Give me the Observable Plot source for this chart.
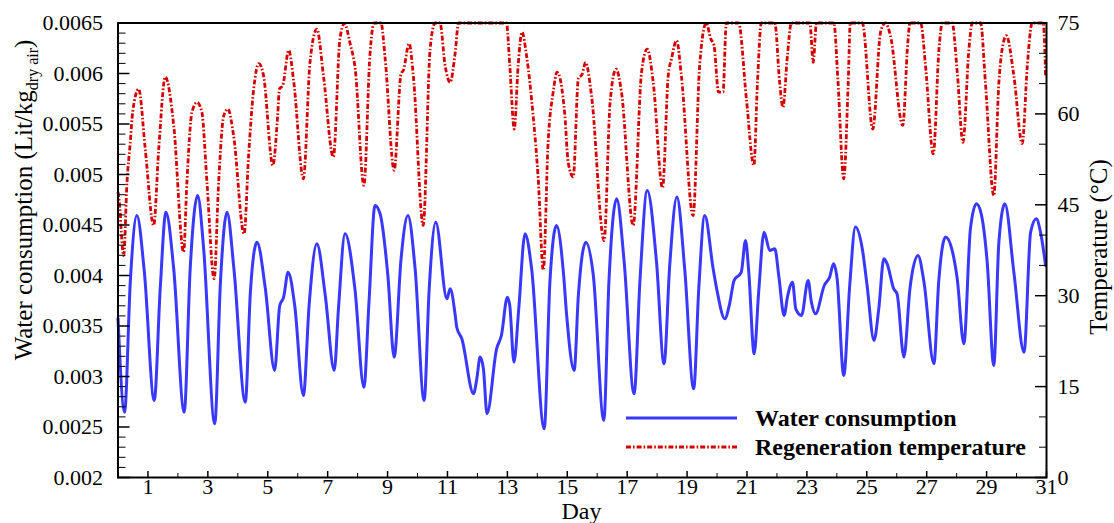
<!DOCTYPE html>
<html><head><meta charset="utf-8">
<script src="https://cdn.jsdelivr.net/npm/d3@7"></script>
<script src="https://cdn.jsdelivr.net/npm/@observablehq/plot@0.6"></script>
<style>body{margin:0;background:#fff}#chart{width:1114px;height:523px}</style>
</head><body><div id="chart"></div>
<script>
// ---- data ----
const waterDay = [0,0.22,0.41,0.63,0.88, 1.21,1.41,1.60,1.86, 2.21,2.41,2.66,2.86, 3.23,3.42,3.64,3.87, 4.25,4.42,4.64,4.92,
  5.23,5.40,5.53,5.68,5.90, 6.19,6.38,6.64,6.92, 7.22,7.36,7.58,7.91, 8.21,8.38,8.58,8.75,9.01, 9.22,9.45,9.68,9.92,
  10.22,10.39,10.61,10.98,11.09,11.26,11.31,11.48, 11.87,11.98,12.09,12.20, 12.32,12.64,12.80,13.00,13.08, 13.22,13.38,13.59,13.81,
  14.23,14.42,14.64,14.87,14.98, 15.23,15.37,15.62,15.87, 16.22,16.39,16.65,16.90, 17.23,17.43,17.67,17.98, 18.23,18.42,18.66,18.92,
  19.22,19.39,19.59,19.87,20.01, 20.26,20.42,20.57,20.81,20.95,21.06, 21.24,21.39,21.57,21.76,21.93,22.06,
  22.24,22.35,22.52,22.63,22.82,23.04,23.15,23.29,23.58,23.76,23.89,24.01, 24.23,24.43,24.62,24.85,25.01,
  25.24,25.40,25.57,25.68,25.90,26.01, 26.24,26.44,26.71,26.91, 27.24,27.40,27.63,27.85,28.02, 28.24,28.46,28.66,28.82,29.02,
  29.24,29.41,29.61,29.91, 30.25,30.47,30.66,30.80,30.97];
const waterVal = [0.003575,0.002647,0.003934,0.004594,0.004033, 0.002763,0.003872,0.004627,0.004067, 0.002647,0.004067,0.004792,0.004264,
  0.002532,0.003934,0.004627,0.004067, 0.002746,0.003835,0.004330,0.003868, 0.003060,0.003703,0.003785,0.004033,0.003703,
  0.002812,0.003703,0.004314,0.003802, 0.003060,0.003670,0.004413,0.003868, 0.002894,0.003736,0.004693,0.004611,0.004000,
  0.003192,0.004165,0.004594,0.004067, 0.002763,0.003868,0.004528,0.003769,0.003868,0.003604,0.003488,0.003373,
  0.002829,0.002978,0.003192,0.003077, 0.002631,0.003274,0.003406,0.003785,0.003703, 0.003142,0.003670,0.004413,0.004067,
  0.002482,0.003934,0.004495,0.004033,0.003604, 0.003060,0.003802,0.004330,0.004000, 0.002565,0.003934,0.004759,0.004132,
  0.002829,0.003967,0.004842,0.004132, 0.003126,0.004099,0.004776,0.004067, 0.002878,0.003868,0.004594,0.004067,0.003835,
  0.003571,0.003720,0.003951,0.004033,0.004347,0.004033, 0.003225,0.003835,0.004429,0.004248,0.004264,0.004000,
  0.003604,0.003785,0.003934,0.003670,0.003604,0.003951,0.003736,0.003621,0.003901,0.003984,0.004116,0.003967,
  0.003010,0.003901,0.004479,0.004264,0.003901, 0.003357,0.003670,0.004165,0.004116,0.003868,0.003819,
  0.003192,0.003868,0.004198,0.003934, 0.003126,0.003934,0.004380,0.004248,0.003967, 0.003324,0.004462,0.004710,0.004611,0.004132,
  0.003109,0.004330,0.004710,0.004033, 0.003241,0.004429,0.004561,0.004429,0.004099];

const tempDay = [0,0.08,0.11,0.19,0.30,0.41,0.49,0.69,0.91,1.19,1.36,1.58,1.86,2.19,2.30,2.47,2.64,2.80,2.97,3.21,3.36,3.53,3.67,3.86,
  4.21,4.36,4.53,4.70,4.86,5.17,5.33,5.39,5.50,5.70,5.87,6.19,6.41,6.64,6.86,7.19,7.41,7.56,7.75,7.92,8.21,8.41,8.55,8.78,8.92,
  9.22,9.45,9.53,9.72,9.86,10.19,10.42,10.59,10.75,10.92,11.09,11.26,11.37,12.97,13.08,13.23,13.36,13.49,13.64,13.86,14.03,14.20,
  14.36,14.53,14.66,14.92,15.03,15.20,15.37,15.50,15.61,15.81,16.23,16.43,16.63,16.81,17.20,17.48,17.67,17.87,18.18,18.37,18.48,
  18.65,18.81,19.20,19.42,19.64,19.79,19.90,20.05,20.20,20.31,20.72,20.98,21.23,21.35,21.48,21.93,22.09,22.20,22.35,22.48,23.10,
  23.21,23.32,23.90,24.04,24.23,24.38,24.45,24.85,25.20,25.46,25.62,25.79,26.20,26.37,26.44,26.80,26.96,27.22,27.41,27.52,27.85,
  28.02,28.21,28.41,28.52,28.80,28.96,29.24,29.41,29.52,29.66,29.91,30.19,30.36,30.52,30.89,30.97];
const tempVal = [47.1,43.2,40.5,36.6,48.7,55.3,60.3,64.1,54.2,41.6,54.2,66.1,58.1,37.2,48.7,60.3,61.9,60.3,48.7,32.8,48.7,59.7,60.8,56.4,
  40.2,53.1,64.1,68.3,66.3,51.5,59.7,64.1,64.7,70.5,65.2,49.3,68.5,74.0,66.3,52.9,72.4,74.9,71.6,67.4,48.2,69.6,75,75,69.1,
  50.7,66.6,67.2,71.6,66.3,41.6,70.7,75,75,68.0,65.2,70.2,75,75,68.0,57.5,68.0,73.5,69.6,59.7,49.3,34.2,
  55.3,63.6,66.9,59.7,52.0,49.6,65.8,66.6,68.5,63.0,39.1,61.9,67.4,63.6,41.6,66.9,70.7,65.2,47.8,66.3,69.1,
  72.1,66.3,43.2,68.0,75,72.4,71.3,63.6,63.6,75,75,62.5,51.5,65.2,75,75,65.2,61.1,69.6,75,75,
  68.5,75,75,65.2,49.3,65.2,75,75,57.5,73.5,75,72.9,58.1,71.8,75,75,68.0,53.4,70.7,75,75,
  66.9,55.3,70.7,75,75,65.2,46.5,65.2,70.7,72.9,66.3,55.1,68.0,75,75,66.3];

const seriesNames = ["Water consumption", "Regeneration temperature"];
const xMajorTicks = [1,3,5,7,9,11,13,15,17,19,21,23,25,27,29,31];
const xMinorTicks = [2,4,6,8,10,12,14,16,18,20,22,24,26,28,30];
const yTicks = [0.002,0.0025,0.003,0.0035,0.004,0.0045,0.005,0.0055,0.006,0.0065];
const yTickLabels = ["0.002","0.0025","0.003","0.0035","0.004","0.0045","0.005","0.0055","0.006","0.0065"];
const yMinorTicks = d3.range(21, 65).filter(i => i % 5 !== 0).map(i => i / 10000);
const tempTicks = [0,15,30,45,60,75];
const tempTickLabels = ["0","15","30","45","60","75"];
const tempMinorTicks = [5,10,20,25,35,40,50,55,65,70];

// temperature axis shares the frame: 0 °C <-> 0.002, 75 °C <-> 0.0065
const W0 = 0.002, W1 = 0.0065, T0 = 0, T1 = 75;
const tToY = t => W0 + (t - T0) / (T1 - T0) * (W1 - W0);

const water = waterDay.map((d, i) => ({day: d, v: waterVal[i]}));
const temp = tempDay.map((d, i) => ({day: d, v: tempVal[i]}));

const blue = "#3838ff", red = "#d40000", dash = "5,2,1.6,2";
const serif = "'Liberation Serif','Times New Roman',serif";

const plot = Plot.plot({
  width: 1114, height: 523,
  marginLeft: 117.5, marginRight: 68, marginTop: 22.5, marginBottom: 46,
  x: {domain: [0, 31]},
  y: {domain: [W0, W1]},
  style: {fontFamily: serif, fontSize: "22px", color: "black", background: "white"},
  marks: [
    Plot.line(temp, {x: "day", y: d => tToY(d.v), stroke: red, strokeWidth: 2.8, strokeDasharray: dash, strokeLinecap: "butt", curve: "monotone-x"}),
    Plot.line(water, {x: "day", y: "v", stroke: blue, strokeWidth: 3, curve: "monotone-x"}),
    Plot.axisX(xMajorTicks, {anchor: "bottom", tickSize: -6, tickPadding: 7, strokeWidth: 1.5, label: null, tickFormat: d => String(d)}),
    Plot.axisX(xMinorTicks, {anchor: "bottom", tickSize: -4, strokeWidth: 1, label: null, tickFormat: () => ""}),
    Plot.axisY(yTicks, {anchor: "left", tickSize: -12, tickPadding: 27, strokeWidth: 1.5, label: null, tickFormat: d => yTickLabels[yTicks.indexOf(d)]}),
    Plot.axisY(yMinorTicks, {anchor: "left", tickSize: -8, strokeWidth: 1, label: null, tickFormat: () => ""}),
    Plot.axisY(tempTicks.map(tToY), {anchor: "right", tickSize: -12, tickPadding: 23, strokeWidth: 1.5, label: null, tickFormat: (d, i) => tempTickLabels[i]}),
    Plot.axisY(tempMinorTicks.map(tToY), {anchor: "right", tickSize: -8, strokeWidth: 1, label: null, tickFormat: () => ""}),
    Plot.frame({stroke: "black", strokeWidth: 2})
  ]
});
document.getElementById("chart").append(plot);

const svg = d3.select(plot);
// axis titles
svg.append("text").attr("x", 581.5).attr("y", 519).attr("text-anchor", "middle")
  .style("font", `24px ${serif}`).text("Day");
const yl = svg.append("text").attr("transform", "translate(32,200) rotate(-90)").attr("text-anchor", "middle")
  .style("font", `25px ${serif}`);
yl.append("tspan").text("Water consumption (Lit/kg");
yl.append("tspan").attr("dy", 6).style("font-size", "16px").text("dry air");
yl.append("tspan").attr("dy", -6).text(")");
svg.append("text").attr("transform", "translate(1107,247) rotate(-90)").attr("text-anchor", "middle")
  .style("font", `25px ${serif}`).text("Temperature (°C)");
// legend
const legend = [{name: seriesNames[0], color: blue, dash: null, y: 418},
                {name: seriesNames[1], color: red, dash: dash, y: 447}];
legend.forEach(L => {
  svg.append("line").attr("x1", 626).attr("x2", 737).attr("y1", L.y).attr("y2", L.y)
    .attr("stroke", L.color).attr("stroke-width", L.dash ? 2.8 : 3).attr("stroke-dasharray", L.dash);
  svg.append("text").attr("x", 755).attr("y", L.y + 8).attr("text-anchor", "start")
    .style("font", `bold 24px ${serif}`).text(L.name);
});
</script></body></html>
